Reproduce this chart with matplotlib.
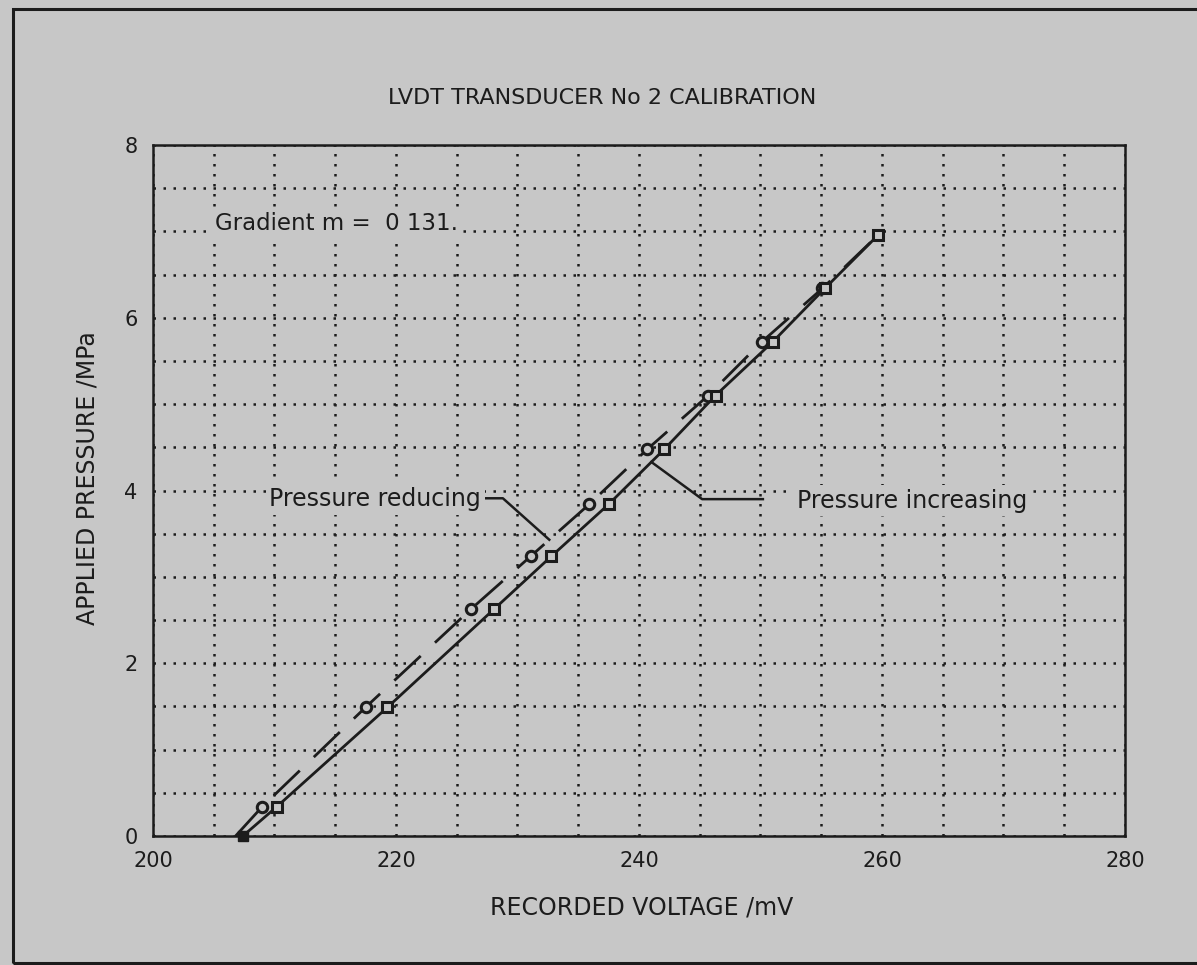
import numpy as np
import matplotlib.pyplot as plt
from matplotlib.patches import Rectangle

# LVDT calibration readings: applied pressure (MPa) vs recorded voltage (mV)
pressure_up = [0.0, 0.34, 1.49, 2.63, 3.24, 3.84, 4.48, 5.10, 5.72, 6.34, 6.96]
volts_up = [207.4, 210.2, 219.3, 228.1, 232.8, 237.5, 242.1, 246.3, 251.0, 255.3, 259.7]

pressure_down = [0.0, 0.34, 1.49, 2.63, 3.24, 3.84, 4.48, 5.10, 5.72, 6.34, 6.96]
volts_down = [206.8, 209.0, 217.5, 226.2, 231.1, 235.9, 240.7, 245.7, 250.1, 255.1, 259.7]

gradient_text = "Gradient m =  0 131."
x_ticks = [200, 220, 240, 260, 280]
y_ticks = [0, 2, 4, 6, 8]

bg = "#c7c7c7"
ink = "#1c1c1c"

fig = plt.figure(figsize=(11.97, 9.65), dpi=100, facecolor=bg)
ax = fig.add_axes([0.1278, 0.1337, 0.8120, 0.7160])
ax.set_facecolor(bg)

ax.set_xlim(200, 280)
ax.set_ylim(0, 8)
ax.set_xticks(x_ticks)
ax.set_yticks(y_ticks)
ax.set_xticks(np.arange(200, 281, 5), minor=True)
ax.set_yticks(np.arange(0, 8.01, 0.5), minor=True)
ax.tick_params(which="both", length=0, labelsize=15, colors=ink, pad=11)
ax.set_axisbelow(True)
ax.grid(which="both", color=ink, linestyle=(0, (1, 3)), linewidth=1.8)
for sp in ax.spines.values():
    sp.set_linewidth(1.8)
    sp.set_color(ink)

# calibration curves through the readings
ax.plot(volts_up, pressure_up, color=ink, lw=2.0, solid_capstyle="butt")
ax.plot(volts_down, pressure_down, color=ink, lw=2.0, linestyle=(0, (13, 7)))

ax.plot(volts_down[1:-1], pressure_down[1:-1], "o", ms=7.5, mfc=bg, mec=ink, mew=2.2, zorder=4)
ax.plot(volts_up[1:], pressure_up[1:], "s", ms=7.5, mfc=bg, mec=ink, mew=2.2, zorder=5)
ax.plot(volts_up[0], pressure_up[0], "s", ms=7.5, mfc=ink, mec=ink, clip_on=False, zorder=5)

# labels with leader lines to each curve
box = dict(facecolor=bg, edgecolor="none", pad=2.5)
p_red = 3.43
x_red = np.interp(p_red, pressure_down, volts_down)
ax.plot([227.1, 228.8, x_red], [3.91, 3.91, p_red], color=ink, lw=1.8)
ax.text(227.0, 3.9, "Pressure reducing", ha="right", va="center",
        fontsize=17, color=ink, bbox=box)

p_inc = 4.33
x_inc = np.interp(p_inc, pressure_up, volts_up)
ax.plot([x_inc, 245.2, 250.2], [p_inc, 3.90, 3.90], color=ink, lw=1.8)
ax.text(253.0, 3.88, "Pressure increasing", ha="left", va="center",
        fontsize=17, color=ink, bbox=box)

ax.text(205.1, 7.09, gradient_text, ha="left", va="center",
        fontsize=16.5, color=ink, bbox=dict(facecolor=bg, edgecolor="none", pad=1.5))

fig.text(0.503, 0.8984, "LVDT TRANSDUCER No 2 CALIBRATION", ha="center", va="center",
         fontsize=16, color=ink)
fig.text(0.536, 0.0591, "RECORDED VOLTAGE /mV", ha="center", va="center",
         fontsize=17, color=ink)
fig.text(0.0727, 0.5047, "APPLIED PRESSURE /MPa", ha="center", va="center",
         rotation=90, fontsize=17, color=ink)

# page border, open on the right
fig.patches.append(Rectangle((0.0105, 0.002), 1.1, 0.9887, transform=fig.transFigure,
                             fill=False, edgecolor=ink, lw=2.2, clip_on=False))

fig.savefig("out.png", dpi=100, facecolor=bg)
